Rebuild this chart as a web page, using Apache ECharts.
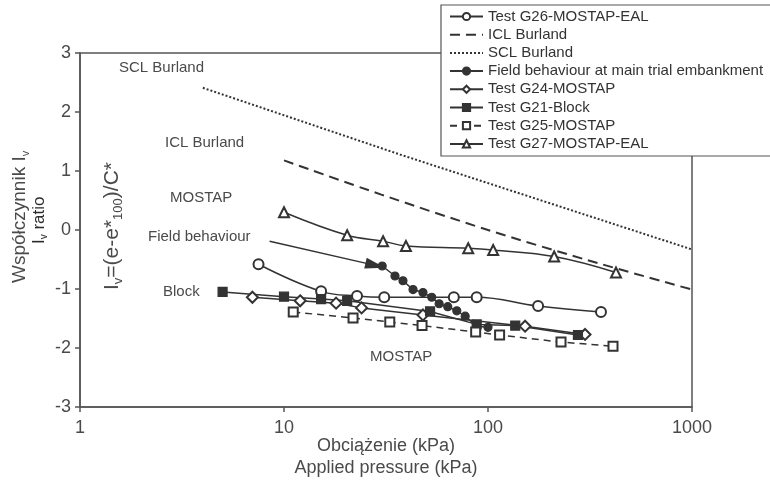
<!DOCTYPE html>
<html style="height: 100%">
<head>
    <meta charset="utf-8">
</head>
<body style="height: 100%; margin: 0; background: #fff">
    <div id="container" style="width: 770px; height: 487px"></div>
    <script src="https://cdn.jsdelivr.net/npm/echarts@6/dist/echarts.min.js"></script>
    <script type="text/javascript">
        // values: [pressure kPa, Iv]
        var g26 = [[7.5, -0.58], [15.2, -1.04], [22.8, -1.12], [31, -1.14], [68, -1.14], [88, -1.14], [176, -1.29], [358, -1.39]];
        var icl = [[10, 1.18], [30, 0.6], [100, 0.0], [300, -0.5], [1000, -1.01]];
        var scl = [[4, 2.41], [37, 1.28], [1000, -0.33]];
        var field = [[30.3, -0.61], [35, -0.78], [38.3, -0.86], [42.9, -1.01], [48, -1.06], [53, -1.14], [57.6, -1.25],
            [63.5, -1.3], [70.3, -1.37], [77.3, -1.46], [88, -1.63], [100, -1.65]];
        var g24 = [[7, -1.14], [12, -1.2], [18, -1.24], [24, -1.32], [48, -1.44], [152, -1.63], [299, -1.77]];
        var g21 = [[5, -1.05], [10, -1.13], [15.2, -1.17], [20.4, -1.2], [52, -1.38], [88, -1.6], [136, -1.62], [276, -1.78]];
        var g25 = [[11.1, -1.39], [21.8, -1.49], [33, -1.56], [47.5, -1.62], [87, -1.73], [114, -1.78], [228, -1.9], [410, -1.97]];
        var g27 = [[10, 0.3], [20.4, -0.09], [30.6, -0.19], [39.6, -0.27], [80, -0.31], [106, -0.34], [211, -0.45], [424, -0.72]];
        var arrow = [[8.5, -0.19], [28, -0.6]];
        var xTicks = [1, 10, 100, 1000];
        var legendNames = ['Test G26-MOSTAP-EAL', 'ICL Burland', 'SCL Burland', 'Field behaviour at main trial embankment',
            'Test G24-MOSTAP', 'Test G21-Block', 'Test G25-MOSTAP', 'Test G27-MOSTAP-EAL'];

        var ink = '#333';
        var txt = '#4a4a4a';
        var font = 'Liberation Sans';

        var dom = document.getElementById("container");
        var myChart = echarts.init(dom);

        function line(name, data, symbol, extra) {
            var s = {
                name: name,
                type: 'line',
                data: data,
                symbol: symbol,
                symbolSize: 9,
                showSymbol: symbol !== 'none',
                itemStyle: { color: ink, borderColor: ink, borderWidth: 1.2 },
                lineStyle: { color: ink, width: 1.5 },
                animation: false
            };
            return Object.assign(s, extra || {});
        }

        function label(text, x, y, size) {
            return {
                type: 'text', left: x, top: y,
                style: { text: text, fill: txt, font: (size || 15) + 'px ' + font }
            };
        }

        function centred(text, x, y, size) {
            return {
                type: 'text', x: x, y: y,
                style: { text: text, fill: txt, font: size + 'px ' + font, textAlign: 'center', textVerticalAlign: 'middle' }
            };
        }

        // rotated text reading bottom to top, with "v" / "100" subscripts
        function vtext(rich, x, y, size, color) {
            return {
                type: 'text', x: x, y: y,
                rotation: Math.PI / 2,
                style: {
                    text: rich,
                    textVerticalAlign: 'middle',
                    rich: {
                        a: { fontSize: size, fill: color, fontFamily: font, lineHeight: size + 4 },
                        s: { fontSize: Math.round(size * 0.6), fill: color, fontFamily: font, verticalAlign: 'bottom', lineHeight: size + 4 }
                    }
                }
            };
        }

        var option = {
            backgroundColor: '#fff',
            textStyle: { fontFamily: font },
            grid: {
                left: 80, right: 78, top: 53, bottom: 80,
                show: true, borderColor: '#555', borderWidth: 1.5
            },
            xAxis: {
                type: 'log', logBase: 10, min: 1, max: 1000,
                axisLine: { onZero: false, lineStyle: { color: '#555', width: 1.5 } },
                axisTick: { show: true, length: 5, lineStyle: { color: '#555', width: 1.5 } },
                axisLabel: {
                    color: txt, fontSize: 18, margin: 12,
                    formatter: function (v) { return xTicks.indexOf(v) >= 0 ? String(v) : ''; }
                },
                splitLine: { show: false },
                minorTick: { show: false }
            },
            yAxis: {
                type: 'value', min: -3, max: 3, interval: 1,
                axisLine: { show: true, onZero: false, lineStyle: { color: '#555', width: 1.5 } },
                axisTick: { show: true, length: 5, lineStyle: { color: '#555', width: 1.5 } },
                axisLabel: { color: txt, fontSize: 18, margin: 9 },
                splitLine: { show: false }
            },
            legend: {
                orient: 'vertical',
                left: 441, top: 5,
                padding: [4, 20, 5, 8],
                itemGap: 3.2,
                itemWidth: 33, itemHeight: 9,
                z: 6,
                textStyle: { color: ink, fontSize: 15, fontFamily: font },
                data: legendNames.map(function (n) {
                    return (n === 'ICL Burland' || n === 'SCL Burland') ? { name: n, itemStyle: { opacity: 0 } } : n;
                })
            },
            graphic: [
                // legend frame, open on the right: it runs off the edge in the original
                {
                    type: 'rect', z: 5, silent: true, x: 441, y: 5,
                    shape: { x: 0, y: 0, width: 329, height: 151 },
                    style: { fill: '#fff', stroke: null }
                },
                {
                    type: 'polyline', z: 5, silent: true, x: 441, y: 5,
                    shape: { points: [[329, 0], [0, 0], [0, 151], [329, 151]] },
                    style: { fill: null, stroke: '#555', lineWidth: 1.2 }
                },
                label('SCL Burland', 119, 60),
                label('ICL Burland', 165, 135),
                label('MOSTAP', 170, 190),
                label('Field behaviour', 148, 229),
                label('Block', 163, 284),
                label('MOSTAP', 370, 349),
                vtext('{a|I}{s|v}{a|=(e-e*}{s|100}{a|)/C*}', 112, 290, 21, txt),
                vtext('{a|Współczynnik I}{s|v}', 20, 283, 19, txt),
                vtext('{a|I}{s|v}{a| ratio}', 39, 244, 17, '#2a2a2a'),
                centred('Obciążenie (kPa)', 386, 446, 18),
                centred('Applied pressure (kPa)', 386, 468, 18)
            ],
            series: [
                line('Test G26-MOSTAP-EAL', g26, 'emptyCircle', { smooth: 0.4, symbolSize: 10 }),
                line('ICL Burland', icl, 'none', { smooth: 0.3, lineStyle: { color: ink, width: 2, type: [10, 6] } }),
                line('SCL Burland', scl, 'none', { lineStyle: { color: ink, width: 2, type: [2, 2] } }),
                line('Field behaviour at main trial embankment', field, 'circle', {
                    symbolSize: 8,
                    markLine: {
                        silent: true, animation: false,
                        symbol: ['none', 'triangle'], symbolSize: [11, 20],
                        label: { show: false },
                        lineStyle: { color: ink, width: 1.4, type: 'solid' },
                        data: [[{ coord: arrow[0] }, { coord: arrow[1] }]]
                    }
                }),
                line('Test G24-MOSTAP', g24, 'emptyDiamond', { symbolSize: 11 }),
                line('Test G21-Block', g21, 'rect', { symbolSize: 9 }),
                line('Test G25-MOSTAP', g25, 'emptyRect', { symbolSize: 9, lineStyle: { color: ink, width: 1.5, type: [7, 5] } }),
                line('Test G27-MOSTAP-EAL', g27, 'emptyTriangle', { smooth: 0.4, symbolSize: 10 })
            ]
        };

        myChart.setOption(option);
    </script>
</body>
</html>
